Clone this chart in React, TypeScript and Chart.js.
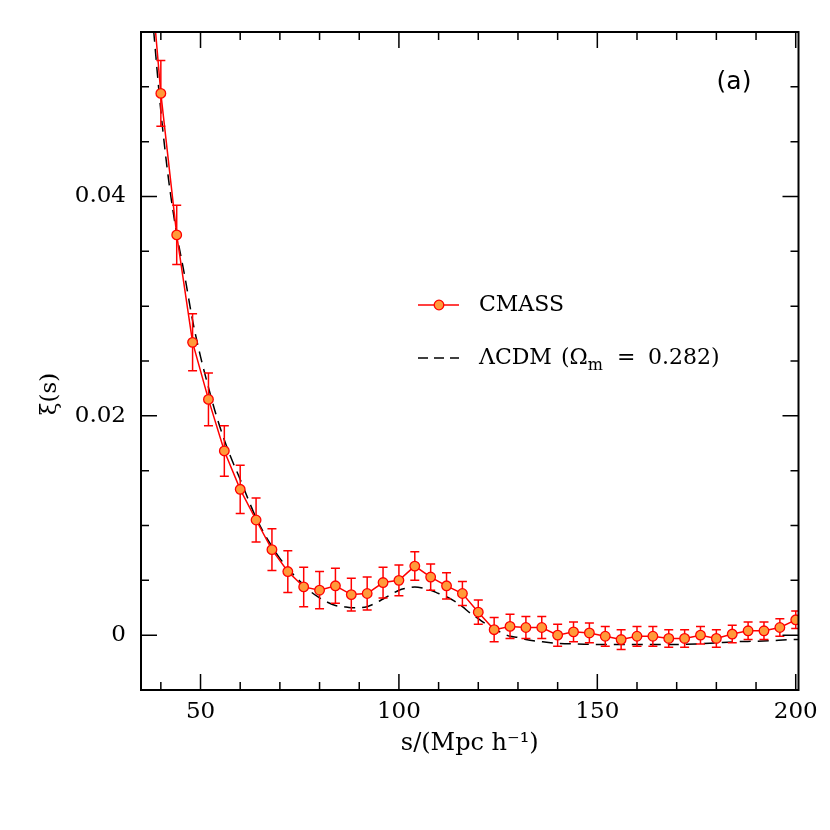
import React, { useEffect, useRef } from "react";
import { Chart, registerables } from "chart.js";

Chart.register(...registerables);

// ---- data ----
const sepBins = [36, 40, 44, 48, 52, 56, 60, 64, 68, 72, 76, 80, 84, 88, 92, 96, 100, 104, 108, 112, 116, 120, 124, 128, 132, 136, 140, 144, 148, 152, 156, 160, 164, 168, 172, 176, 180, 184, 188, 192, 196, 200];
const xiCmass = [0.0663, 0.0494, 0.0365, 0.0267, 0.0215, 0.0168, 0.0133, 0.0105, 0.0078, 0.0058, 0.0044, 0.0041, 0.0045, 0.0037, 0.0038, 0.0048, 0.0050, 0.0063, 0.0053, 0.0045, 0.0038, 0.0021, 0.0005, 0.0008, 0.0007, 0.0007, 0.0000, 0.0003, 0.0002, -0.0001, -0.0004, -0.0001, -0.0001, -0.0003, -0.0003, 0.0000, -0.0003, 0.0001, 0.0004, 0.0004, 0.0007, 0.0014];
const xiErr = [0.0040, 0.0030, 0.0027, 0.0026, 0.0024, 0.0023, 0.0022, 0.0020, 0.0019, 0.0019, 0.0018, 0.0017, 0.0016, 0.0015, 0.0015, 0.0014, 0.0014, 0.0013, 0.0012, 0.0012, 0.0011, 0.0011, 0.0011, 0.0011, 0.0010, 0.0010, 0.0010, 0.0009, 0.0009, 0.0009, 0.0009, 0.0009, 0.0009, 0.0008, 0.0008, 0.0008, 0.0008, 0.0008, 0.0008, 0.0008, 0.0008, 0.0008];

const modelS = [37, 38, 40, 42, 44, 46, 48, 50, 52, 54, 56, 58, 60, 62, 64, 66, 68, 70, 72, 74, 76, 78, 80, 82, 84, 86, 88, 90, 92, 94, 96, 98, 100, 102, 104, 106, 108, 110, 112, 114, 116, 118, 120, 122, 124, 126, 128, 130, 132, 136, 140, 145, 150, 155, 160, 165, 170, 175, 180, 185, 190, 195, 200, 201];
const modelXi = [0.0600, 0.0559, 0.0478, 0.0414, 0.0366, 0.0328, 0.0287, 0.0254, 0.0226, 0.0200, 0.0178, 0.0159, 0.0142, 0.0124, 0.0107, 0.0093, 0.0081, 0.0070, 0.0061, 0.0053, 0.0046, 0.0039, 0.0034, 0.0030, 0.0027, 0.0026, 0.0025, 0.0025, 0.0026, 0.0029, 0.0033, 0.0037, 0.0041, 0.0043, 0.0044, 0.0043, 0.0041, 0.0038, 0.0035, 0.0031, 0.0026, 0.0020, 0.0015, 0.0010, 0.0006, 0.0002, -0.0001, -0.0002, -0.0004, -0.0006, -0.00075, -0.0008, -0.00085, -0.00085, -0.00085, -0.00085, -0.00085, -0.0008, -0.0007, -0.0006, -0.00055, -0.00048, -0.0004, -0.0004];

const xTickValues = [50, 100, 150, 200];
const yTickValues = [0, 0.02, 0.04];
const xMinorTicks = [40, 50, 60, 70, 80, 90, 100, 110, 120, 130, 140, 150, 160, 170, 180, 190, 200];
const yMinorTicks = [0, 0.005, 0.01, 0.015, 0.02, 0.025, 0.03, 0.035, 0.04, 0.045, 0.05];

const cmassLabel = "CMASS";
const modelLabel = ["ΛCDM", "(Ω", "m", "=", "0.282)"];
const panelLabel = "(a)";
const yTitle = "ξ(s)";
const xTitle = "s/(Mpc h⁻¹)";

const RED = "#ff0000";
const ORANGE = "#ff9a3a";
const SERIF = '"DejaVu Serif", serif';

const zeroPad = (s: any) => {
  s.paddingTop = 0;
  s.paddingBottom = 0;
  s.paddingLeft = 0;
  s.paddingRight = 0;
};

const decorPlugin = {
  id: "decor",
  beforeDatasetDraw(chart: any, args: any) {
    if (args.index !== 0) return;
    const { ctx, chartArea: a, scales } = chart;
    const x = scales.x, y = scales.y;
    ctx.save();
    ctx.beginPath();
    ctx.rect(a.left, a.top, a.right - a.left, a.bottom - a.top);
    ctx.clip();
    ctx.strokeStyle = RED;
    ctx.lineWidth = 1.5;
    sepBins.forEach((s, i) => {
      const px = x.getPixelForValue(s);
      const yt = y.getPixelForValue(xiCmass[i] + xiErr[i]);
      const yb = y.getPixelForValue(xiCmass[i] - xiErr[i]);
      ctx.beginPath();
      ctx.moveTo(px, yt);
      ctx.lineTo(px, yb);
      ctx.moveTo(px - 4.5, yt);
      ctx.lineTo(px + 4.5, yt);
      ctx.moveTo(px - 4.5, yb);
      ctx.lineTo(px + 4.5, yb);
      ctx.stroke();
    });
    ctx.restore();
  },
  afterDraw(chart: any) {
    const { ctx, chartArea: a, scales } = chart;
    const x = scales.x, y = scales.y;
    ctx.save();
    // frame
    ctx.strokeStyle = "#000";
    ctx.lineWidth = 2;
    ctx.strokeRect(a.left, a.top, a.right - a.left, a.bottom - a.top);
    // inward ticks
    ctx.lineWidth = 1.5;
    ctx.beginPath();
    xMinorTicks.forEach((v) => {
      const px = x.getPixelForValue(v);
      if (px <= a.left || px >= a.right) return;
      const len = v % 50 === 0 ? 16 : 8;
      ctx.moveTo(px, a.bottom);
      ctx.lineTo(px, a.bottom - len);
      ctx.moveTo(px, a.top);
      ctx.lineTo(px, a.top + len);
    });
    yMinorTicks.forEach((v, k) => {
      const py = y.getPixelForValue(v);
      if (py <= a.top || py >= a.bottom) return;
      const len = k % 4 === 0 ? 16 : 8;
      ctx.moveTo(a.left, py);
      ctx.lineTo(a.left + len, py);
      ctx.moveTo(a.right, py);
      ctx.lineTo(a.right - len, py);
    });
    ctx.stroke();

    // y title
    ctx.fillStyle = "#000";
    ctx.font = "23px " + SERIF;
    ctx.textAlign = "center";
    ctx.textBaseline = "middle";
    ctx.save();
    ctx.translate(42, 386);
    ctx.rotate(-Math.PI / 2);
    ctx.fillText(yTitle, 0, 0);
    ctx.restore();

    // panel label
    ctx.font = '25px "DejaVu Sans", sans-serif';
    ctx.fillText(panelLabel, 726, 74);

    // legend
    const ly1 = 297, ly2 = 350;
    ctx.strokeStyle = RED;
    ctx.lineWidth = 1.5;
    ctx.beginPath();
    ctx.moveTo(410, ly1);
    ctx.lineTo(451, ly1);
    ctx.stroke();
    ctx.beginPath();
    ctx.arc(431, ly1, 4.8, 0, Math.PI * 2);
    ctx.fillStyle = ORANGE;
    ctx.fill();
    ctx.lineWidth = 1.3;
    ctx.stroke();

    ctx.strokeStyle = "#000";
    ctx.lineWidth = 1.5;
    ctx.setLineDash([10, 6]);
    ctx.beginPath();
    ctx.moveTo(410, ly2);
    ctx.lineTo(451, ly2);
    ctx.stroke();
    ctx.setLineDash([]);

    ctx.fillStyle = "#000";
    ctx.textAlign = "left";
    ctx.font = "22px " + SERIF;
    ctx.fillText(cmassLabel, 471, ly1);
    ctx.fillText(modelLabel[0], 471, ly2);
    ctx.fillText(modelLabel[1], 553, ly2);
    const w = ctx.measureText(modelLabel[1]).width;
    ctx.font = "16px " + SERIF;
    ctx.fillText(modelLabel[2], 553 + w, ly2 + 8);
    ctx.font = "22px " + SERIF;
    ctx.fillText(modelLabel[3], 609, ly2);
    ctx.fillText(modelLabel[4], 640, ly2);
    ctx.restore();
  },
};

export default function App() {
  const ref = useRef<HTMLCanvasElement | null>(null);
  useEffect(() => {
    if (!ref.current) return;
    const chart = new Chart(ref.current, {
      type: "line",
      data: {
        datasets: [
          {
            label: cmassLabel,
            data: sepBins.map((s, i) => ({ x: s, y: xiCmass[i] })),
            borderColor: RED,
            borderWidth: 1.5,
            pointRadius: 4.8,
            pointBackgroundColor: ORANGE,
            pointBorderColor: RED,
            pointBorderWidth: 1.3,
            tension: 0,
          },
          {
            label: "ΛCDM (Ωm = 0.282)",
            data: modelS.map((s, i) => ({ x: s, y: modelXi[i] })),
            borderColor: "#000",
            borderWidth: 1.5,
            borderDash: [11, 7],
            pointRadius: 0,
            cubicInterpolationMode: "monotone",
          },
        ],
      },
      options: {
        animation: false,
        responsive: false,
        layout: { padding: { left: 0, top: 24, right: 23.5, bottom: 0 } },
        plugins: { legend: { display: false }, tooltip: { enabled: false } },
        scales: {
          x: {
            type: "linear",
            min: 35,
            max: 200.7,
            afterBuildTicks: (s: any) => {
              s.ticks = xTickValues.map((v) => ({ value: v }));
            },
            afterFit: (s: any) => {
              s.height = 132;
              zeroPad(s);
            },
            grid: { display: false, drawTicks: false },
            border: { display: false },
            ticks: {
              padding: 8,
              color: "#000",
              autoSkip: false,
              maxRotation: 0,
              font: { family: SERIF, size: 23 },
              callback: (v: any) => String(v),
            },
            title: {
              display: true,
              text: xTitle,
              color: "#000",
              font: { family: SERIF, size: 24, lineHeight: 1 },
              padding: { top: 0, bottom: 66 },
            },
          },
          y: {
            type: "linear",
            min: -0.005,
            max: 0.055,
            afterBuildTicks: (s: any) => {
              s.ticks = yTickValues.map((v) => ({ value: v }));
            },
            afterFit: (s: any) => {
              s.width = 133;
              zeroPad(s);
            },
            grid: { display: false, drawTicks: false },
            border: { display: false },
            ticks: {
              padding: 15,
              color: "#000",
              autoSkip: false,
              font: { family: SERIF, size: 23 },
              callback: (v: any) => (v === 0 ? "0" : Number(v).toFixed(2)),
            },
          },
        },
      },
      plugins: [decorPlugin],
    } as any);
    return () => chart.destroy();
  }, []);
  return <canvas ref={ref} width={814} height={814} style={{ display: "block" }} />;
}
